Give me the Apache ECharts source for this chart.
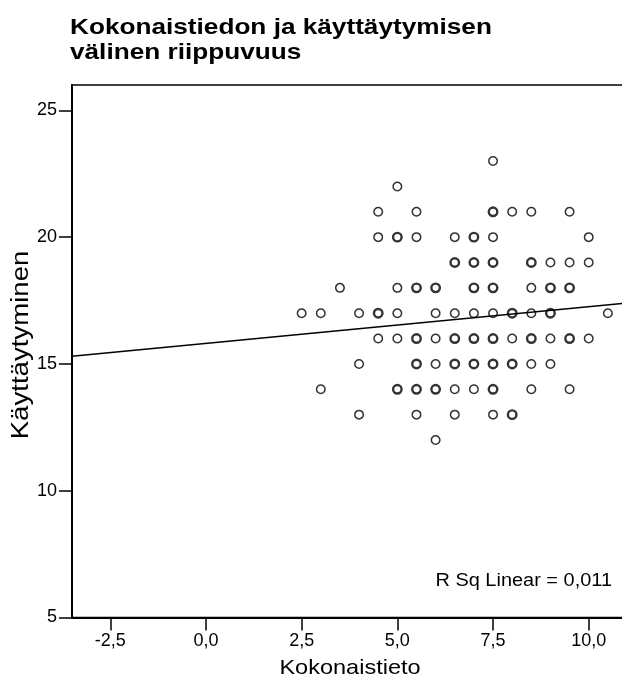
<!DOCTYPE html>
<html>
<head>
<meta charset="utf-8">
<script src="https://cdn.jsdelivr.net/npm/echarts@6/dist/echarts.min.js"></script>
<style>
  html, body { margin: 0; padding: 0; background: #fff; }
  #chart { width: 622px; height: 690px; }
</style>
</head>
<body>
<div id="chart"></div>
<script>
// Behaviour score rows (y) and the knowledge scores (x) observed in each row,
// with the number of respondents sharing each exact (x, y) pair.
const behaviourRows = [23, 22, 21, 20, 19, 18, 17, 16, 15, 14, 13, 12];
const knowledgeByRow = [
  [7.5],
  [5],
  [4.5, 5.5, 7.5, 8, 8.5, 9.5],
  [4.5, 5, 5.5, 6.5, 7, 7.5, 10],
  [6.5, 7, 7.5, 8.5, 9, 9.5, 10],
  [3.5, 5, 5.5, 6, 7, 7.5, 8.5, 9, 9.5],
  [2.5, 3, 4, 4.5, 5, 6, 6.5, 7, 7.5, 8, 8.5, 9, 10.5],
  [4.5, 5, 5.5, 6, 6.5, 7, 7.5, 8, 8.5, 9, 9.5, 10],
  [4, 5.5, 6, 6.5, 7, 7.5, 8, 8.5, 9],
  [3, 5, 5.5, 6, 6.5, 7, 7.5, 8.5, 9.5],
  [4, 5.5, 6.5, 7.5, 8],
  [6]
];
const casesByRow = [
  [1],
  [1],
  [1, 1, 2, 1, 1, 1],
  [1, 2, 1, 1, 2, 1, 1],
  [2, 2, 2, 2, 1, 1, 1],
  [1, 1, 2, 2, 2, 2, 1, 2, 2],
  [1, 1, 1, 2, 1, 1, 1, 1, 1, 2, 1, 2, 1],
  [1, 1, 2, 1, 2, 2, 2, 1, 2, 1, 2, 1],
  [1, 2, 1, 2, 2, 2, 2, 1, 1],
  [1, 2, 2, 2, 1, 1, 2, 1, 1],
  [1, 1, 1, 1, 2],
  [1]
];

// Linear fit of behaviour on knowledge
const fitIntercept = 15.81;
const fitSlope = 0.1445;
const rSquaredText = 'R Sq Linear = 0,011';

// Axis ranges and tick labels
const xRange = [-3.5, 11];
const yRange = [5, 26];
const xTicks = [-2.5, 0, 2.5, 5, 7.5, 10];
const yTicks = [5, 10, 15, 20, 25];

const titleLines = ['Kokonaistiedon ja käyttäytymisen', 'välinen riippuvuus'];
const xName = 'Kokonaistieto';
const yName = 'Käyttäytyminen';

const FONT = '"Liberation Sans", Arial, sans-serif';

const scatterData = [];
behaviourRows.forEach((y, r) => {
  knowledgeByRow[r].forEach((x, i) => {
    const n = casesByRow[r][i];
    scatterData.push({
      value: [x, y, n],
      itemStyle: { borderWidth: n > 1 ? 2.4 : 1.5 }
    });
  });
});

const fitLine = xRange.map(x => [x, fitIntercept + fitSlope * x]);
const fmtComma = v => Number(v).toFixed(1).replace('.', ',');

const chart = echarts.init(document.getElementById('chart'), null, { renderer: 'canvas' });

chart.setOption({
  animation: false,
  backgroundColor: '#fff',
  grid: {
    left: 72, right: -5, top: 85, bottom: 72.5,
    show: true, borderColor: '#000', borderWidth: 1.5,
    containLabel: false, outerBoundsMode: 'none'
  },
  xAxis: {
    type: 'value', min: xRange[0], max: xRange[1],
    splitLine: { show: false },
    axisLine: { show: true, onZero: false, lineStyle: { color: '#000', width: 2 } },
    axisTick: { show: true, length: 13, lineStyle: { color: '#000', width: 1.5 }, customValues: xTicks },
    axisLabel: {
      customValues: xTicks, formatter: fmtComma, margin: 15,
      color: '#000', fontFamily: FONT, fontSize: 18
    }
  },
  yAxis: {
    type: 'value', min: yRange[0], max: yRange[1],
    splitLine: { show: false },
    axisLine: { show: true, onZero: false, lineStyle: { color: '#000', width: 2 } },
    axisTick: { show: true, length: 13, lineStyle: { color: '#000', width: 1.5 }, customValues: yTicks },
    axisLabel: {
      customValues: yTicks, margin: 15,
      color: '#000', fontFamily: FONT, fontSize: 18
    }
  },
  series: [
    {
      type: 'scatter',
      data: scatterData,
      symbol: 'circle',
      symbolSize: 8.5,
      itemStyle: { color: 'rgba(0,0,0,0)', borderColor: '#000' },
      emphasis: { disabled: true },
      z: 3
    },
    {
      type: 'line',
      data: fitLine,
      showSymbol: false,
      symbol: 'none',
      clip: true,
      lineStyle: { color: '#000', width: 1.5 },
      z: 2
    }
  ],
  graphic: [
    {
      type: 'text', x: 70, y: 15, scaleX: 1.19,
      style: {
        text: titleLines.join('\n'), fill: '#000',
        font: 'bold 22px ' + FONT, lineHeight: 25,
        align: 'left', verticalAlign: 'top'
      }
    },
    {
      type: 'text', x: 350, y: 668, scaleX: 1.12,
      style: {
        text: xName, fill: '#000', font: '21px ' + FONT,
        align: 'center', verticalAlign: 'middle'
      }
    },
    {
      type: 'text', x: 22, y: 345, rotation: Math.PI / 2, scaleX: 1.2,
      style: {
        text: yName, fill: '#000', font: '23px ' + FONT,
        align: 'center', verticalAlign: 'middle'
      }
    },
    {
      type: 'text', x: 612, y: 581, scaleX: 1.14,
      style: {
        text: rSquaredText, fill: '#000', font: '17.5px ' + FONT,
        align: 'right', verticalAlign: 'middle'
      }
    }
  ]
});
</script>
</body>
</html>
